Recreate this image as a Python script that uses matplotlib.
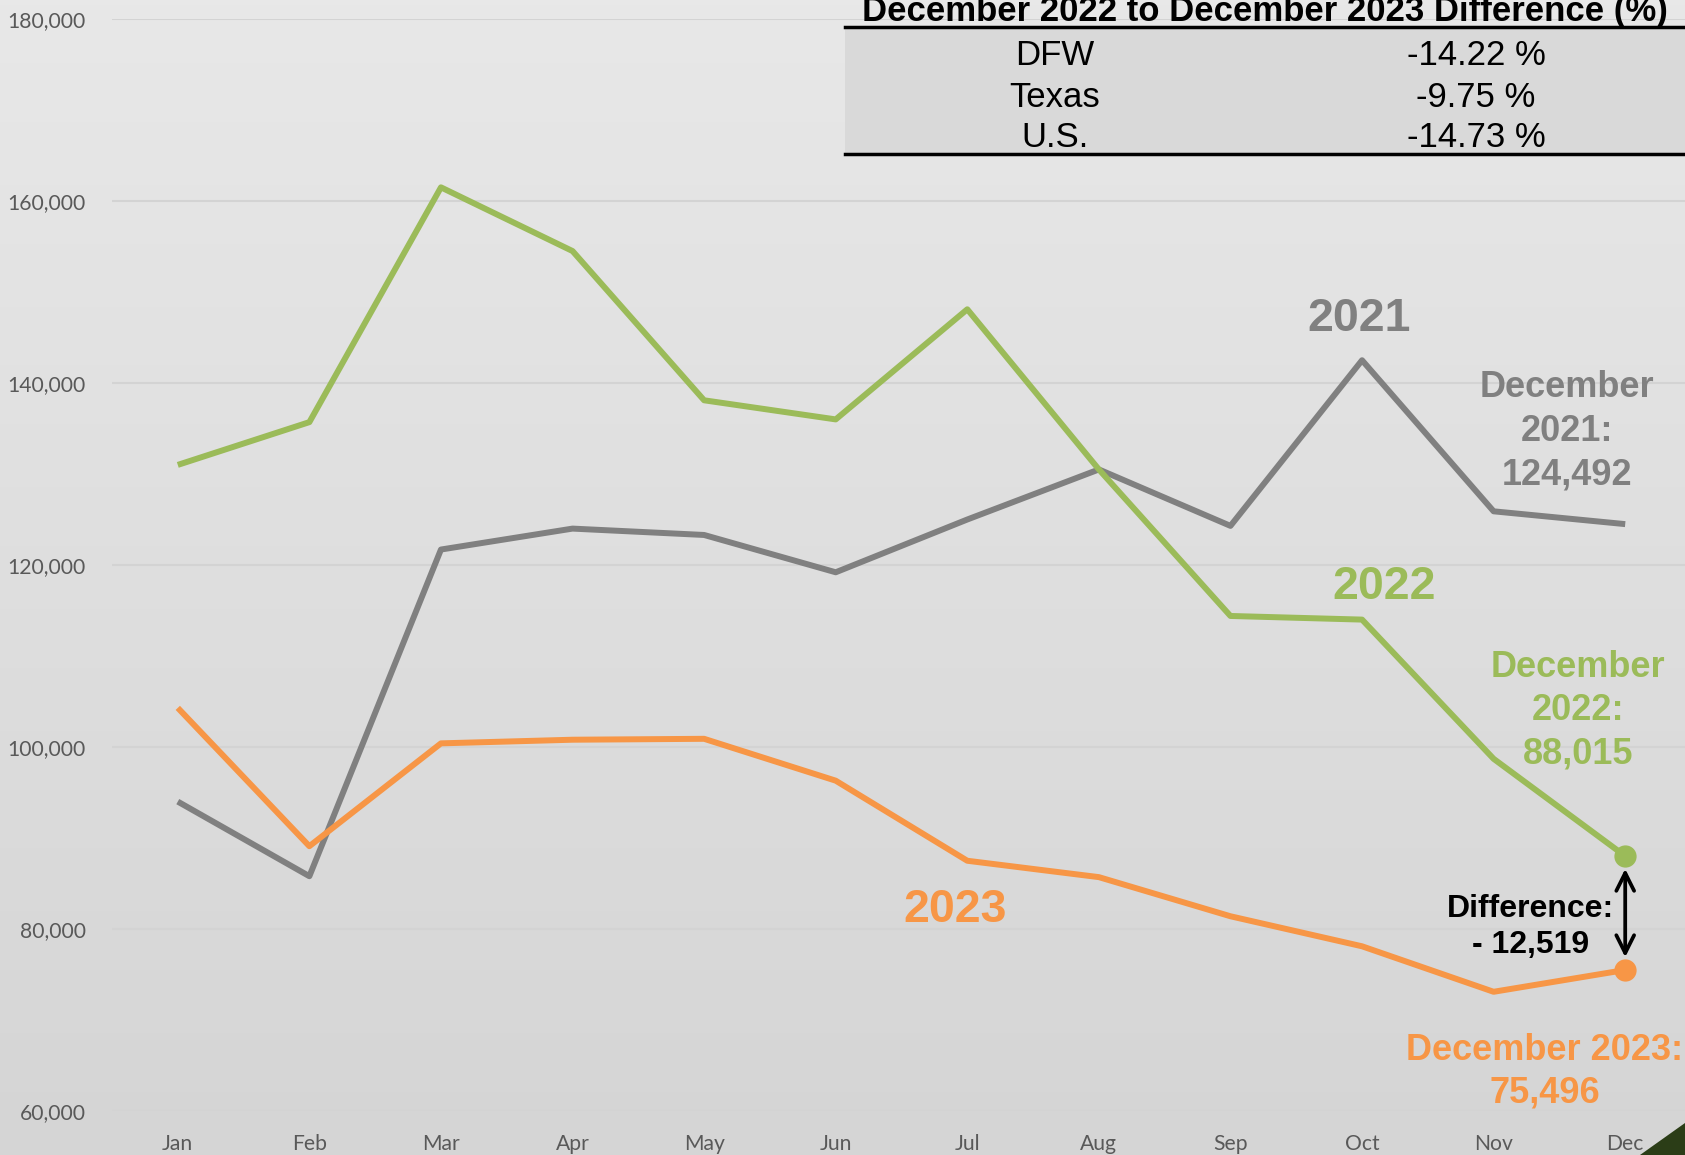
import numpy as np
import matplotlib.pyplot as plt
from matplotlib.patches import Rectangle, Polygon

# Monatswerte
months = ["Jan", "Feb", "Mar", "Apr", "May", "Jun", "Jul", "Aug", "Sep", "Oct", "Nov", "Dec"]
sales_2021 = [94000, 85800, 121700, 124000, 123300, 119200, 125000, 130500, 124300, 142500, 125900, 124492]
sales_2022 = [131000, 135700, 161500, 154500, 138100, 136000, 148100, 130500, 114400, 114000, 98700, 88015]
sales_2023 = [104300, 89100, 100400, 100800, 100900, 96300, 87500, 85700, 81400, 78100, 73100, 75496]

yticks = [60000, 80000, 100000, 120000, 140000, 160000, 180000]

table_title = "December 2022 to December 2023 Difference (%)"
table_regions = ["DFW", "Texas", "U.S."]
table_values = [-14.22, -9.75, -14.73]

c21 = "#808080"
c22 = "#9bbb59"
c23 = "#f79646"

fig = plt.figure(figsize=(16.85, 11.55), dpi=100)

# Hintergrund mit leichtem Verlauf
bg = fig.add_axes([0, 0, 1, 1], zorder=0)
grad = np.linspace(0, 1, 256).reshape(-1, 1)
bg.imshow(grad, aspect="auto", cmap=plt.matplotlib.colors.LinearSegmentedColormap.from_list(
    "bg", ["#e8e8e8", "#d5d5d5"]), extent=[0, 1, 0, 1], origin="upper")
bg.set_axis_off()

ax = fig.add_axes([112 / 1685, 44 / 1155, 1573 / 1685, (1111 - 19) / 1155], zorder=1)
ax.patch.set_alpha(0)
x = np.arange(len(months))

ax.plot(x, sales_2021, color=c21, lw=4.3, solid_capstyle="butt", zorder=3)
ax.plot(x, sales_2022, color=c22, lw=4.3, solid_capstyle="butt", zorder=4)
ax.plot(x, sales_2023, color=c23, lw=4.3, solid_capstyle="butt", zorder=4)
ax.plot(x[-1], sales_2022[-1], "o", color=c22, ms=15, zorder=5)
ax.plot(x[-1], sales_2023[-1], "o", color=c23, ms=15, zorder=5)

ax.set_xlim(-0.5, 11.5 - 6 / 131.5)
ax.set_ylim(60000, 180000)
ax.set_yticks(yticks)
ax.set_yticklabels([f"{v:,}" for v in yticks])
ax.set_xticks(x)
ax.set_xticklabels(months)
ax.grid(axis="y", color="#d3d3d3", lw=1.5)
ax.set_axisbelow(True)
for s in ax.spines.values():
    s.set_visible(False)
ax.tick_params(length=0, labelsize=15.2, labelcolor="#595959")
ax.tick_params(axis="y", pad=19)
ax.tick_params(axis="x", pad=16.5)
for lab in ax.get_xticklabels() + ax.get_yticklabels():
    lab.set_family("Lato")

# Beschriftungen
bold = dict(family="Liberation Sans", weight="bold", ha="center", va="center")
ax.text(8.98, 147000, "2021", color=c21, fontsize=33.5, **bold)
ax.text(10.56, 134700, "December\n2021:\n124,492", color=c21, fontsize=26, linespacing=1.31, **bold)
ax.text(9.17, 117600, "2022", color=c22, fontsize=33.5, **bold)
ax.text(10.64, 104000, "December\n2022:\n88,015", color=c22, fontsize=26, linespacing=1.31, **bold)
ax.text(5.91, 82100, "2023", color=c23, fontsize=33.5, **bold)
ax.text(10.39, 64300, "December 2023:\n75,496", color=c23, fontsize=26, linespacing=1.3, **bold)
ax.text(10.28, 80200, "Difference:\n- 12,519", color="black", fontsize=23, linespacing=1.26, **bold)

ax.annotate("", xy=(x[-1], sales_2023[-1] + 1100), xytext=(x[-1], sales_2022[-1] - 1100),
            arrowprops=dict(arrowstyle="<->", color="black", lw=2.7, mutation_scale=32), zorder=6)

# Tabelle oben rechts
fig.patches.append(Rectangle((845 / 1685, (1155 - 154) / 1155), 840 / 1685, 127 / 1155,
                             transform=fig.transFigure, facecolor="#d9d9d9", edgecolor="none", zorder=2))
fig.add_artist(plt.Line2D([845 / 1685, 1], [(1155 - 27) / 1155] * 2, color="black", lw=2.5, zorder=3))
fig.add_artist(plt.Line2D([845 / 1685, 1], [(1155 - 154) / 1155] * 2, color="black", lw=2.5, zorder=3))
fig.text(1265 / 1685, (1155 - 21) / 1155, table_title, family="Liberation Sans", weight="bold",
         fontsize=25, ha="center", va="baseline", zorder=3)
row_base = [65, 107, 147]
for ry, reg, val in zip(row_base, table_regions, table_values):
    fig.text(1055 / 1685, (1155 - ry) / 1155, reg, family="Liberation Sans", fontsize=25,
             ha="center", va="baseline", zorder=3)
    fig.text(1476 / 1685, (1155 - ry) / 1155, f"{val:.2f} %", family="Liberation Sans", fontsize=25,
             ha="center", va="baseline", zorder=3)

# Dunkelgrüne Ecke unten rechts
fig.patches.append(Polygon([(1640 / 1685, 0), (1, 0), (1, (1155 - 1123) / 1155)],
                           transform=fig.transFigure, facecolor="#2b3d17", edgecolor="none", zorder=5))

fig.savefig("out.png", dpi=100)
